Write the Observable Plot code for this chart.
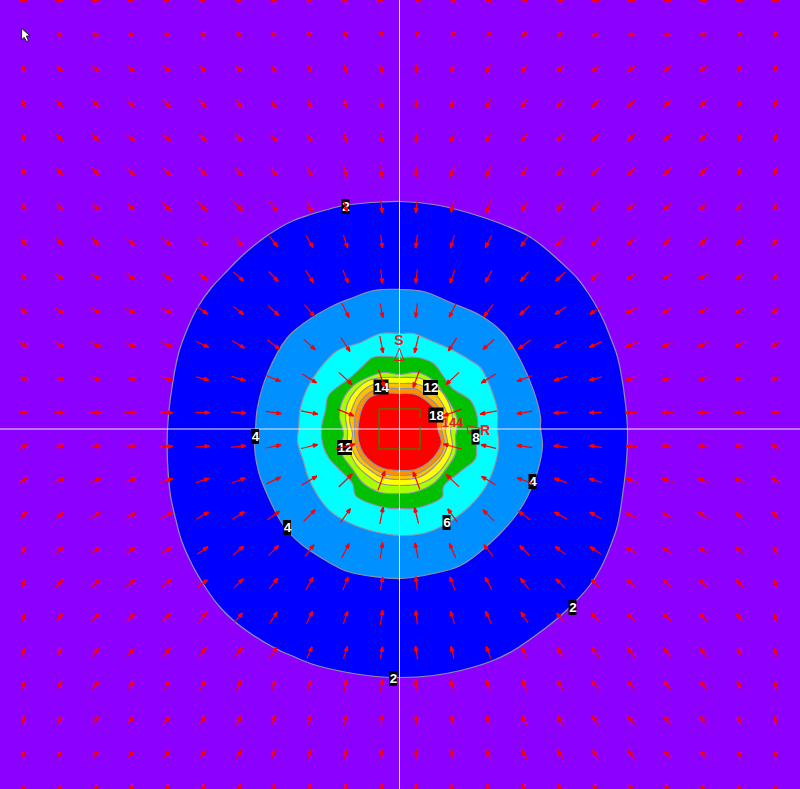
<!DOCTYPE html>
<html><head><meta charset="utf-8">
<style>html,body{margin:0;padding:0;background:#8c00ff;overflow:hidden}svg{display:block}</style>
<script src="https://cdn.jsdelivr.net/npm/d3@7"></script>
<script src="https://cdn.jsdelivr.net/npm/@observablehq/plot@0.6"></script>
</head><body><div id="chart"></div>
<script>
const levels = [2,4,6,8,10,12,14,16,18];
const levelColors = ["#0000ff","#0090ff","#00ffff","#00c000","#a8ff00","#ffff00","#ffc000","#ff9000","#ff0000"];
const contour2 = [[400,201],[433,204],[467,212],[500,223],[527,235],[540,244],[553,255],[565,266],[577,278],[588,293],[597,308],[604,322],[610,337],[616,353],[620,370],[625,403],[627,430],[626,461],[622,495],[617,525],[609,548],[600,568],[590,584],[576,600],[557,618],[535,635],[513,650],[490,661],[460,670],[433,675],[400,677],[375,676],[347,672],[313,664],[293,656],[275,648],[253,635],[233,620],[218,605],[205,587],[192,565],[181,540],[175,518],[170,495],[167,461],[167,428],[170,397],[178,353],[187,328],[197,307],[211,287],[227,270],[243,254],[260,240],[276,229],[293,220],[310,214],[327,209],[343,205],[360,203],[380,201.5]];
const contour4 = [[400,289],[423,291],[450,302],[480,315],[503,333],[520,360],[533,390],[540,417],[540,428],[542,445],[537,471],[527,496],[513,518],[487,545],[460,565],[433,573],[400,578],[373,576],[347,571],[327,561],[300,543],[283,525],[270,501],[258,471],[254,445],[255,428],[257,407],[267,373],[287,337],[303,323],[333,305],[353,297],[373,290]];
const contour6 = [[400,333],[413,333],[430,340],[453,350],[470,360],[480,367],[490,387],[497,410],[497,428],[498,448],[487,483],[470,505],[443,525],[423,533],[400,535],[373,531],[350,523],[330,511],[317,495],[307,475],[303,461],[297,441],[298,428],[300,407],[307,387],[320,367],[337,350],[360,342],[380,333]];
const contour8 = [[399,357],[390,356],[372,357],[363,365],[350,377],[328,395],[325,410],[321,427],[322,443],[328,457],[340,470],[352,483],[355,495],[370,503],[390,508],[399,508],[413,508],[433,502],[442,496],[443,486],[460,471],[475,458],[476,445],[477,418],[470,400],[452,388],[443,376],[433,363],[417,357]];
const contour10 = [[399,374],[383,372],[367,377],[353,385],[342,400],[339,417],[343,433],[340,450],[353,470],[363,483],[380,492],[399,493],[413,492],[433,483],[443,472],[455,453],[455,437],[457,420],[452,407],[443,393],[433,380],[417,372]];
const contour12 = [[399,377],[383,377],[368,380],[355,390],[347,403],[345,417],[347,430],[347,443],[355,463],[367,475],[380,483],[399,485],[420,483],[437,473],[447,460],[452,447],[450,430],[452,417],[447,400],[437,387],[420,378]];
const contour14 = [[399,383],[383,383],[370,385],[358,395],[352,407],[349,420],[352,433],[351,445],[358,460],[370,470],[382,477],[399,479],[418,477],[432,468],[443,455],[447,443],[445,430],[447,417],[442,403],[433,392],[418,384]];
const contour16 = [[399,388],[382,388],[369,392],[360,401],[355,413],[354,427],[355,442],[361,457],[372,467],[383,473],[399,475],[417,473],[430,465],[441,453],[444,443],[441,428],[442,415],[435,403],[425,395],[417,389]];
const contour18 = [[399,393],[380,393],[368,398],[362,407],[358,423],[358,440],[363,453],[373,463],[383,468],[399,470],[415,469],[428,462],[438,450],[441,442],[437,427],[437,413],[428,402],[415,394]];
const contours = [contour2,contour4,contour6,contour8,contour10,contour12,contour14,contour16,contour18];

const gridX = [23,59,95,130,166,202,238,273,309,345,381,416,452,488,524,560,595,631,667,703,739,775];
const gridY = [0,34,68,103,137,171,206,241,276,310,344,378,412,446,480,515,550,583,617,652,685,720,754,788];
const arrowU = [
[7,7,7,7,7,7,7,6,5,4,2,-2,-4,-5,-6,-7,-7,-7,-7,-7,-7,-7],
[3.5,6,7,7.5,7.5,7,6.5,5.5,4,3,1,-1,-3,-4,-5.5,-6.5,-7,-7,-7,-7,-5,-3.5],
[4.7,6,7,7.5,7.5,7,6.5,5.5,4.5,3,1,-1,-3,-4.5,-5.5,-6.5,-7,-7,-7,-7,-4.5,-2.5],
[4,6,6.3,7.5,7.5,7,6.5,5.5,4.5,3,1.5,-1.5,-3,-4.5,-5.5,-6.5,-7,-7.5,-7,-7,-4,-2],
[4,6,6.3,7.7,7.7,7.5,7,6.5,5.5,3.5,1.5,-1.5,-3.5,-5,-6,-6.5,-7,-7,-7,-7,-4,-2],
[4.7,6,6.3,7.7,7.7,7.5,7.5,6.5,5.5,3.5,1.5,-1.5,-3.5,-5,-6,-7,-7.5,-7.5,-7,-7,-4,-2],
[5.3,6,7,7.7,8.3,8.3,8.3,7.3,5.7,3.5,1.7,-1.7,-3.3,-4.7,-6.3,-6.7,-8.3,-8.3,-7.7,-7,-6,-5],
[5.3,6.3,7,7.7,9.3,9,8.3,7.7,7,4.3,1.7,-1.7,-4,-6.7,-7.3,-8.7,-8.3,-8.3,-7.7,-7,-6.3,-5.3],
[5.3,7,9.3,9,10,9.3,10.7,9.3,8,5.3,1.7,-1.7,-5,-6.7,-8.3,-10,-9,-9.3,-9,-9.3,-7,-5.3],
[6,8.3,9.3,9.3,10.7,10.3,10.7,11,10,7.3,2.7,-1.7,-6.7,-9.3,-9.7,-11.3,-11.7,-11.3,-9.3,-9.3,-8.3,-6],
[7,8.7,10,10,11.7,12.3,12.3,12.3,11.7,9,3.3,-4,-8.3,-11.3,-12.3,-12.3,-12.3,-11.3,-10,-10,-8.7,-7],
[7.5,9.5,10,11,12.7,12.7,14,14.3,14.3,13.3,5.7,-6.7,-13.3,-14.7,-15,-13.3,-13,-12.3,-11,-10,-9.5,-7.5],
[8,10,10.5,11.5,12.3,14.3,15,15.7,16.7,16.7,10,-10,-18.3,-16.7,-15.7,-14,-13,-12.3,-11.5,-10.5,-10,-8],
[7.5,9.5,10.5,11.5,12.3,14,15,15.7,16.7,19,8,-8,-18.3,-15,-15.7,-14,-12.3,-11.3,-11.5,-10.5,-9.5,-7.5],
[6.5,9.5,10.5,11,12.3,13.3,14,14.7,15,13.3,6.7,-6.7,-13,-14,-15,-12.7,-13,-11.3,-11,-10.5,-9.5,-6.5],
[6,8,10,10,12,12.3,12,12.3,11.7,10,3.3,-4,-9.7,-11.3,-11.7,-12.3,-11.7,-11.3,-10,-10,-8,-6],
[5,7.5,9,9.5,10.7,10.7,10.7,10,9,7.3,2.3,-3.3,-6.3,-9.3,-9.7,-10.7,-11,-10.7,-9.5,-9,-7.5,-5],
[4,6.5,8,8.5,9.3,10,9.3,8.7,7.3,5.3,2.3,-1.7,-5,-6.7,-8.3,-9,-8.3,-9.3,-8.5,-8,-6.5,-4],
[3,6,7.5,8,8.3,8,8.3,7.7,6,4.3,2.3,-1.7,-4,-5.7,-7,-8,-8.3,-8.3,-8,-7.5,-6,-3],
[2.3,5,6.5,7.5,7.3,7.3,7.7,6.7,5.3,4,2.3,-2,-3,-4.7,-6.7,-6.7,-7,-7.7,-7.5,-6.5,-5,-2.3],
[2,5,6.5,7,7,6.5,5.5,4.3,4.3,3.3,2.3,-1.7,-2.7,-3.5,-4.5,-6,-6.5,-7,-7,-6.5,-5,-2],
[2,4.5,6,6.5,7.5,6.5,5.5,4.5,3.5,2.5,1.5,-1.5,-2.5,-3.5,-4.5,-5.5,-6.5,-7.5,-6.5,-6,-4.5,-2],
[2,4.5,6,6.5,6.5,6,5,4.5,3.5,2.5,1.5,-1.5,-2.5,-3.5,-4.5,-5,-6,-6.5,-6.5,-6,-4.5,-2],
[2,4.5,5.5,6,6,5.5,5,4,3,2.5,1.5,-1.5,-2.5,-3,-4,-5,-5.5,-6,-6,-5.5,-4.5,-2]
];
const arrowV = [
[0,0,0,0,0,0,0,0,0,0,0,0,0,0,0,0,0,0,0,0,0,0],
[5,3.7,2.3,2.5,2.5,3,3,3.5,3.5,4,4,4,4,3.5,3.5,3,3,2,2,2,3,5],
[6,5.7,6,5.5,6,6.5,7,7.5,8,8,8.5,8.5,8,8,7.5,7,6.5,5,4.5,4.5,5.5,6.5],
[7.3,6.7,6,6.5,7,7.5,8,8.5,9,9,9.5,9.5,9,9,8.5,8,7.5,7,6,6,6.5,7],
[6.7,7,7,6.7,7,7.5,8,8.5,9,9.5,10,10,9.5,9,8.5,8,7.5,7,6.5,6.5,7,7],
[6.7,6.7,6.7,6.7,6.7,8,8.5,9,10,10.5,11,11,10.5,10,9,8.5,8,7.5,7,7,7,7.5],
[7.7,7.7,7,7,8.3,9,9,10,10.7,11,12.7,12.7,11.7,12.3,10,9.3,9,7,7,7,7.7,7.7],
[7.7,6.7,6.7,6.7,7.3,8.3,9.3,10.7,12,12.7,13.3,13.3,12.7,12,10,9,9,6.7,6.7,6.7,6.7,7.7],
[7.3,5.7,5.3,6,7.3,7.3,9.3,10,12.3,13.3,14,14,13.3,11.7,10,9,8.3,6.7,6,5.3,5.7,7.3],
[6,5.3,5.7,5.3,5,7.3,8.3,10,11.7,14.3,14.3,14.3,13.7,12.3,9,7.7,7.7,5.7,5.3,5.7,5.3,6],
[4,4.3,4.3,4,4,6,7.3,9.3,10.7,14,16.7,16.7,13.3,10,9,6.7,5.7,4.7,4,4.3,4.3,4],
[3,3,3,3,3,3.3,4.3,6,9,12.3,17.3,18,12.3,9,6,4.3,3.3,3,3,3,3,3],
[0,.3,.3,.3,.7,.3,1.3,2.3,3.3,6.7,2,2,6.7,3.3,2.7,1.3,.3,.3,.3,.3,.3,0],
[-4,-2.7,-2,-2,-.7,-1,-1.7,-3,-4,-5,-2,-2,-5,-3.7,-2.3,-1.7,-1.7,-.7,-2,-2,-2.7,-4],
[-5,-4,-4,-4,-3.7,-4.3,-5,-6.7,-9,-13,-19,-17.7,-12.3,-8.3,-6,-4.3,-4,-4,-4,-4,-4,-5],
[-8,-6,-6,-5.5,-6,-7.3,-7.7,-9,-11.7,-14,-16.7,-16,-13.3,-11.3,-9,-6.7,-6.7,-5,-5.5,-6,-6,-8],
[-8,-7,-6.5,-6.5,-6.7,-7.7,-9,-10.3,-11.7,-14.3,-16,-15.7,-14.3,-11.7,-10,-8.3,-7.7,-6.7,-6.5,-6.5,-7,-8],
[-8,-7.5,-7.5,-7.5,-7.7,-7.7,-9.3,-11,-12.7,-13.3,-13.3,-14,-13.3,-12.7,-10.7,-9.3,-8.3,-7.7,-7.5,-7.5,-7.5,-8],
[-8,-8,-8,-8,-8,-10,-9.3,-11.7,-12.7,-12.7,-14.7,-14,-12.7,-12.3,-11,-9.3,-9.3,-7.7,-8,-8,-8,-8],
[-8,-8,-8,-8,-9,-9.7,-9.7,-10.7,-11.7,-12.3,-11.7,-13.3,-12.3,-12.3,-11,-9.7,-9.7,-9,-8,-8,-8,-8],
[-8.5,-8,-8,-8,-9,-9.5,-10,-10,-10,-11,-12,-12,-11,-11,-10,-9.5,-9.5,-9,-8,-8,-8,-8.5],
[-8,-8,-8,-7.5,-8,-8.5,-9,-9.5,-10,-10.5,-11,-11,-10.5,-10,-9.5,-9,-8.5,-8,-7.5,-8,-8,-8],
[-7,-7,-7,-7,-8,-8,-8.5,-9,-9.5,-10,-10,-10,-10,-9.5,-9,-8.5,-8,-8,-7,-7,-7,-7],
[-7,-7,-7,-7,-7.5,-8,-8,-8.5,-9,-9,-9.5,-9.5,-9,-9,-8.5,-8,-8,-7.5,-7,-7,-7,-7]
];
const labelText = ["2","4","4","4","2","6","8","2","14","12","18","12"];
const labelX = [345.5,255,287,532.5,572.5,446.5,475.5,393,381,430.5,436,344.5];
const labelY = [206.5,436.5,527.5,481.5,607.5,522.5,437,678.5,387,387.5,415,447.5];
const centerSquare = [[419.5,417],[419.5,408.5],[378.5,408.5],[378.5,448.5],[419.5,448.5],[419.5,426]];
const sourceTriangle = [[398.7,348],[394,360],[403,360]];
const receiverTriangle = [[467,425],[480,428],[468,433]];
const cursorShape = [[21,28],[21,39.5],[23.6,36.8],[26,41],[28,40],[25.8,35.6],[29.2,35.4]];

const arrows = gridY.flatMap((y,r)=>gridX.map((x,c)=>({x,y,u:arrowU[r][c],v:arrowV[r][c]})));
const labels = labelText.map((t,i)=>({t,x:labelX[i],y:labelY[i],hw:t.length>1?7.5:4}));
const px = d=>d[0], py = d=>d[1];

function solidHead(color, context){
  const ns = "http://www.w3.org/2000/svg";
  const doc = context.document;
  const m = doc.createElementNS(ns,"marker");
  m.setAttribute("viewBox","-6 -3 6 6");
  m.setAttribute("refX","0");m.setAttribute("refY","0");
  m.setAttribute("markerWidth","6");m.setAttribute("markerHeight","6");
  m.setAttribute("markerUnits","userSpaceOnUse");
  m.setAttribute("orient","auto");
  const p = doc.createElementNS(ns,"path");
  p.setAttribute("d","M-4.6,-1.7L0,0L-4.6,1.7Z");
  p.setAttribute("fill",color);
  m.appendChild(p);
  return m;
}

const chart = Plot.plot({
  width:800,height:789,margin:0,
  x:{domain:[0,800],range:[0,800],axis:null},
  y:{domain:[0,789],range:[0,789],axis:null},
  style:{background:"#8c00ff",overflow:"hidden"},
  marks:[
    ...contours.map((c,i)=>Plot.line(c,{x:px,y:py,curve:"catmull-rom-closed",fill:levelColors[i],stroke:"#9090a8",strokeWidth:1.2})),
    Plot.ruleX([399],{stroke:"#f4e8ff",strokeWidth:1}),
    Plot.ruleY([428.5],{stroke:"#f4e8ff",strokeWidth:1}),
    Plot.line(centerSquare,{x:px,y:py,stroke:"#00a800",strokeWidth:1}),
    Plot.line(sourceTriangle,{x:px,y:py,curve:"linear-closed",stroke:"#e02020",strokeWidth:1}),
    Plot.line(receiverTriangle,{x:px,y:py,curve:"linear-closed",stroke:"#e02020",strokeWidth:1}),
    Plot.rect(labels,{x1:d=>d.x-d.hw,x2:d=>d.x+d.hw,y1:d=>d.y-7.5,y2:d=>d.y+7.5,fill:"#000"}),
    Plot.text(labels,{x:"x",y:"y",text:"t",fill:"#fff",fontFamily:"Liberation Sans",fontWeight:"bold",fontSize:13.5}),
    Plot.link(arrows,{x1:d=>d.x-d.u/2,y1:d=>d.y-d.v/2,x2:d=>d.x+d.u/2,y2:d=>d.y+d.v/2,stroke:"#ff0000",strokeWidth:1.2,markerEnd:solidHead}),
    Plot.text(["S"],{x:[398.5],y:[340.5],fill:"#e82020",fontFamily:"Liberation Sans",fontWeight:"bold",fontSize:14}),
    Plot.text(["R"],{x:[484.5],y:[430.5],fill:"#e82020",fontFamily:"Liberation Sans",fontWeight:"bold",fontSize:14}),
    Plot.text(["144"],{x:[452],y:[422],fill:"#e82020",fontFamily:"Liberation Sans",fontWeight:"bold",fontSize:13}),
    Plot.line(cursorShape,{x:px,y:py,curve:"linear-closed",fill:"#fff",stroke:"#1a1a2a",strokeWidth:1})
  ]
});
document.getElementById("chart").appendChild(chart);
</script></body></html>
